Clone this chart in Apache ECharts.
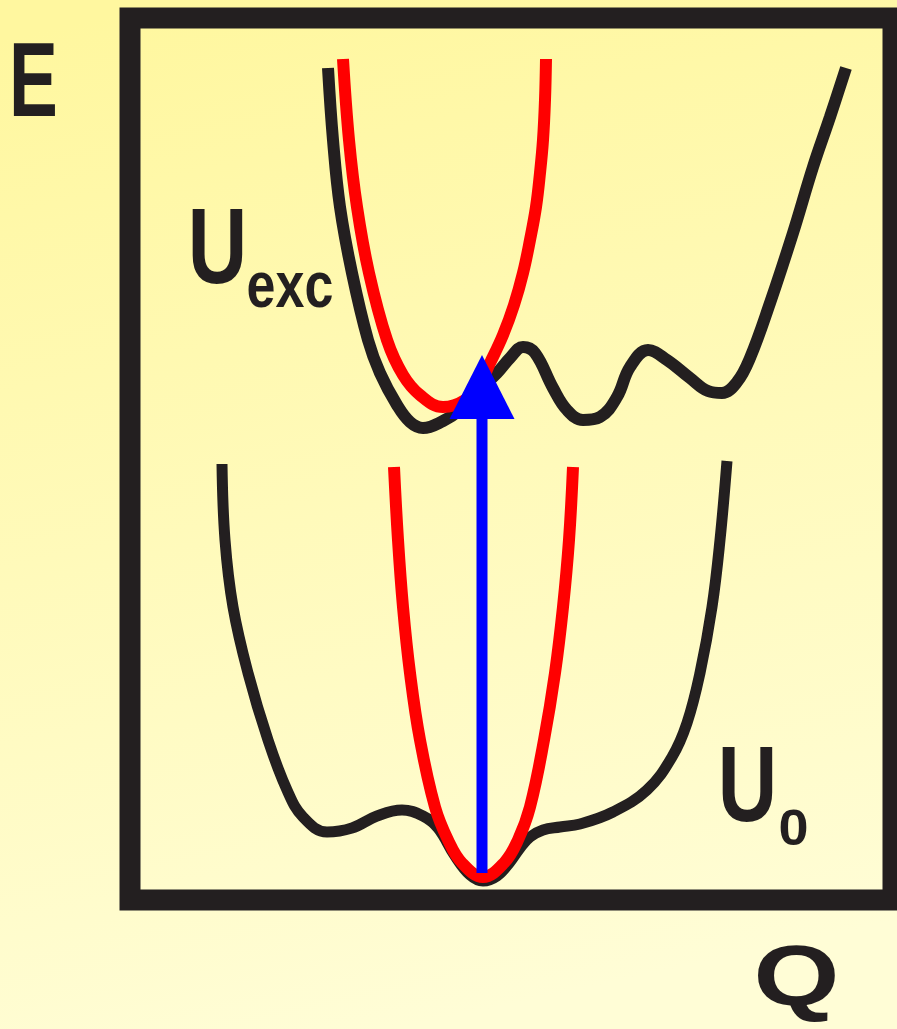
<!DOCTYPE html>
<html>
<head>
<meta charset="utf-8">
<script src="https://cdn.jsdelivr.net/npm/echarts@6/dist/echarts.min.js"></script>
<style>
  html, body { margin: 0; padding: 0; }
  #chart { width: 897px; height: 1029px; }
</style>
</head>
<body>
<div id="chart"></div>
<script>
// curves, [Q, E] in arbitrary units
var uExc = [[198,832],[203,760],[210,693],[222,627],[238,560],[250,527],[267,495],[280,478],[293,472],[313,479],[330,490],[347,508],[367,527],[380,542],[393,553],[405,547],[423,512],[437,490],[453,480],[470,483],[487,503],[500,533],[518,550],[537,540],[560,522],[578,509],[592,507],[607,518],[620,542],[640,597],[663,667],[683,733],[700,783],[716,832]]
var harmExc = [[213,841],[219,760],[227,693],[239,627],[257,560],[273,525],[290,505],[313,493],[335,500],[350,517],[360,537],[373,565],[384,595],[393,627],[400,660],[406,693],[410,727],[413,760],[415,800],[416,841]]
var u0 = [[92,436],[95,360],[103,293],[118,227],[138,160],[157,110],[173,83],[197,68],[222,72],[247,84],[272,90],[293,84],[308,72],[325,44],[340,25],[353,19],[367,24],[380,38],[390,52],[400,63],[413,70],[430,73],[450,76],[483,88],[517,110],[542,143],[557,177],[570,227],[582,293],[590,360],[597,439]]
var harm0 = [[264,433],[268,360],[273,293],[280,227],[290,160],[305,93],[318,60],[332,37],[353,23],[374,37],[388,60],[400,93],[414,160],[425,227],[433,293],[439,360],[443,433]]
var arrowQ = [352, 352]
var arrowE = [27, 513]

var qRange = [0, 763]
var eRange = [0, 882]

var ink = '#231f20'
var chart = echarts.init(document.getElementById('chart'))

function label (text, x, y, size, sx, sy) {
  return {
    type: 'text', x: x, y: y, scaleX: sx, scaleY: sy || 1,
    style: {
      text: text, fill: ink, align: 'center', verticalAlign: 'middle',
      fontFamily: 'Liberation Sans', fontWeight: 'bold', fontSize: size
    }
  }
}

var option = {
  animation: false,
  backgroundColor: {
    type: 'linear', x: 0.2, y: 0, x2: 0.45, y2: 1,
    colorStops: [{ offset: 0, color: '#fff79f' }, { offset: 1, color: '#fffdd6' }]
  },
  grid: {
    left: 130, right: 4, top: 18, bottom: 129,
    show: true, borderWidth: 21, borderColor: ink, backgroundColor: 'transparent'
  },
  xAxis: { type: 'value', min: qRange[0], max: qRange[1], show: false },
  yAxis: { type: 'value', min: eRange[0], max: eRange[1], show: false },
  graphic: [
    label('E', 33.5, 87, 106, 0.69),
    label('U', 217.5, 253.5, 107, 0.77),
    label('exc', 290, 289, 65, 0.8),
    label('U', 747.5, 791, 107, 0.77),
    label('0', 793.5, 831.5, 50, 1.08, 1.0),
    label('Q', 796.5, 982, 85, 1.3)
  ],
  series: [
    { type: 'line', data: uExc, smooth: 0.4, showSymbol: false, lineStyle: { color: ink, width: 12 } },
    { type: 'line', data: u0, smooth: 0.4, showSymbol: false, lineStyle: { color: ink, width: 11 } },
    { type: 'line', data: harmExc, smooth: 0.4, showSymbol: false, lineStyle: { color: '#ff0000', width: 12 } },
    { type: 'line', data: harm0, smooth: 0.4, showSymbol: false, lineStyle: { color: '#ff0000', width: 12 } },
    {
      type: 'line',
      data: [
        { value: [arrowQ[0], arrowE[0]], symbol: 'none' },
        { value: [arrowQ[1], arrowE[1]], symbol: 'triangle', symbolSize: [65, 64] }
      ],
      showSymbol: true,
      itemStyle: { color: '#0000ff' },
      lineStyle: { color: '#0000ff', width: 11 }
    }
  ]
}

chart.setOption(option)
window.addEventListener('resize', function () { chart.resize() })
</script>
</body>
</html>
